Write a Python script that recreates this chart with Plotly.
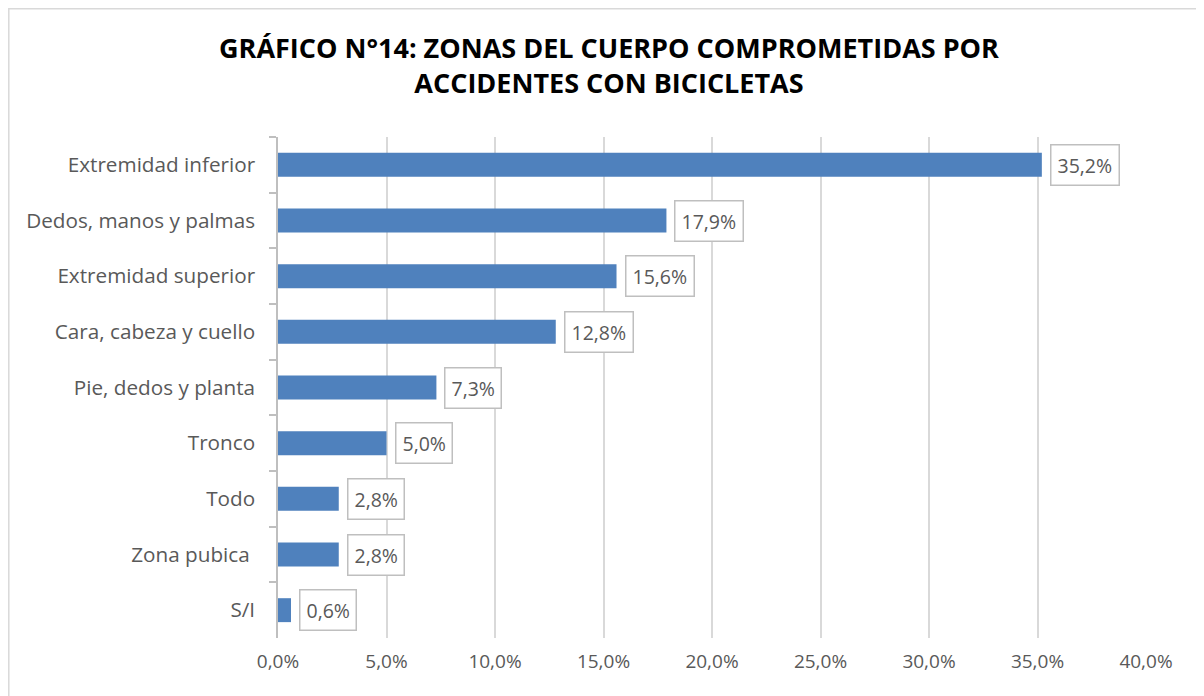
import plotly.graph_objects as go

# Datos
categorias = ["Extremidad inferior", "Dedos, manos y palmas", "Extremidad superior",
              "Cara, cabeza y cuello", "Pie, dedos y planta", "Tronco", "Todo",
              "Zona pubica ", "S/I"]
porcentajes = [35.2, 17.9, 15.6, 12.8, 7.3, 5.0, 2.8, 2.8, 0.6]
ticks_x = [0, 5, 10, 15, 20, 25, 30, 35, 40]

fuente = "Open Sans"
gris = "#595959"

fig = go.Figure()
fig.add_trace(go.Bar(
    x=[v / 100 for v in porcentajes],
    y=categorias,
    orientation="h",
    marker=dict(color="#4F81BD", line=dict(width=0)),
    width=0.43,
    hoverinfo="skip",
))

# Etiquetas de datos con recuadro
for cat, v in zip(categorias, porcentajes):
    fig.add_annotation(
        x=v / 100, y=cat, xref="x", yref="y",
        text=f"{v:.1f}".replace(".", ",") + "%",
        showarrow=False, xanchor="left", xshift=8,
        font=dict(family=fuente, size=19.5, color=gris),
        bordercolor="#BFBFBF", borderwidth=1.5, borderpad=6, bgcolor="white",
    )

# Marco del gráfico
fig.add_shape(type="rect", xref="paper", yref="paper",
              x0=-269.2 / 868, x1=1.2, y0=-0.2, y1=1 + 128.2 / 501,
              line=dict(color="#D9D9D9", width=1.5), layer="below")

fig.update_layout(
    width=1196, height=688,
    margin=dict(l=270, r=58, t=129, b=58),
    paper_bgcolor="white", plot_bgcolor="white",
    separators=",.",
    showlegend=False,
    title=dict(
        text="GRÁFICO N°14: ZONAS DEL CUERPO COMPROMETIDAS POR<br>ACCIDENTES CON BICICLETAS",
        x=0.5025, xanchor="center", y=0.927, yanchor="middle",
        font=dict(family=fuente, size=27, color="black", weight="bold"),
    ),
    xaxis=dict(
        range=[0, 0.4], tickvals=[t / 100 for t in ticks_x], tickformat=".1%",
        showgrid=True, gridcolor="#D9D9D9", gridwidth=1.5, zeroline=False,
        showline=False, ticks="", ticklabelstandoff=10,
        tickfont=dict(family=fuente, size=19, color=gris),
    ),
    yaxis=dict(
        categoryorder="array", categoryarray=categorias, autorange="reversed",
        showline=True, linecolor="#BFBFBF", linewidth=1.5,
        ticks="outside", tickson="boundaries", ticklen=7, tickcolor="#BFBFBF", tickwidth=1.5,
        ticklabelstandoff=17, showgrid=False,
        tickfont=dict(family=fuente, size=20.7, color=gris),
    ),
)

fig.write_html("out.html")
